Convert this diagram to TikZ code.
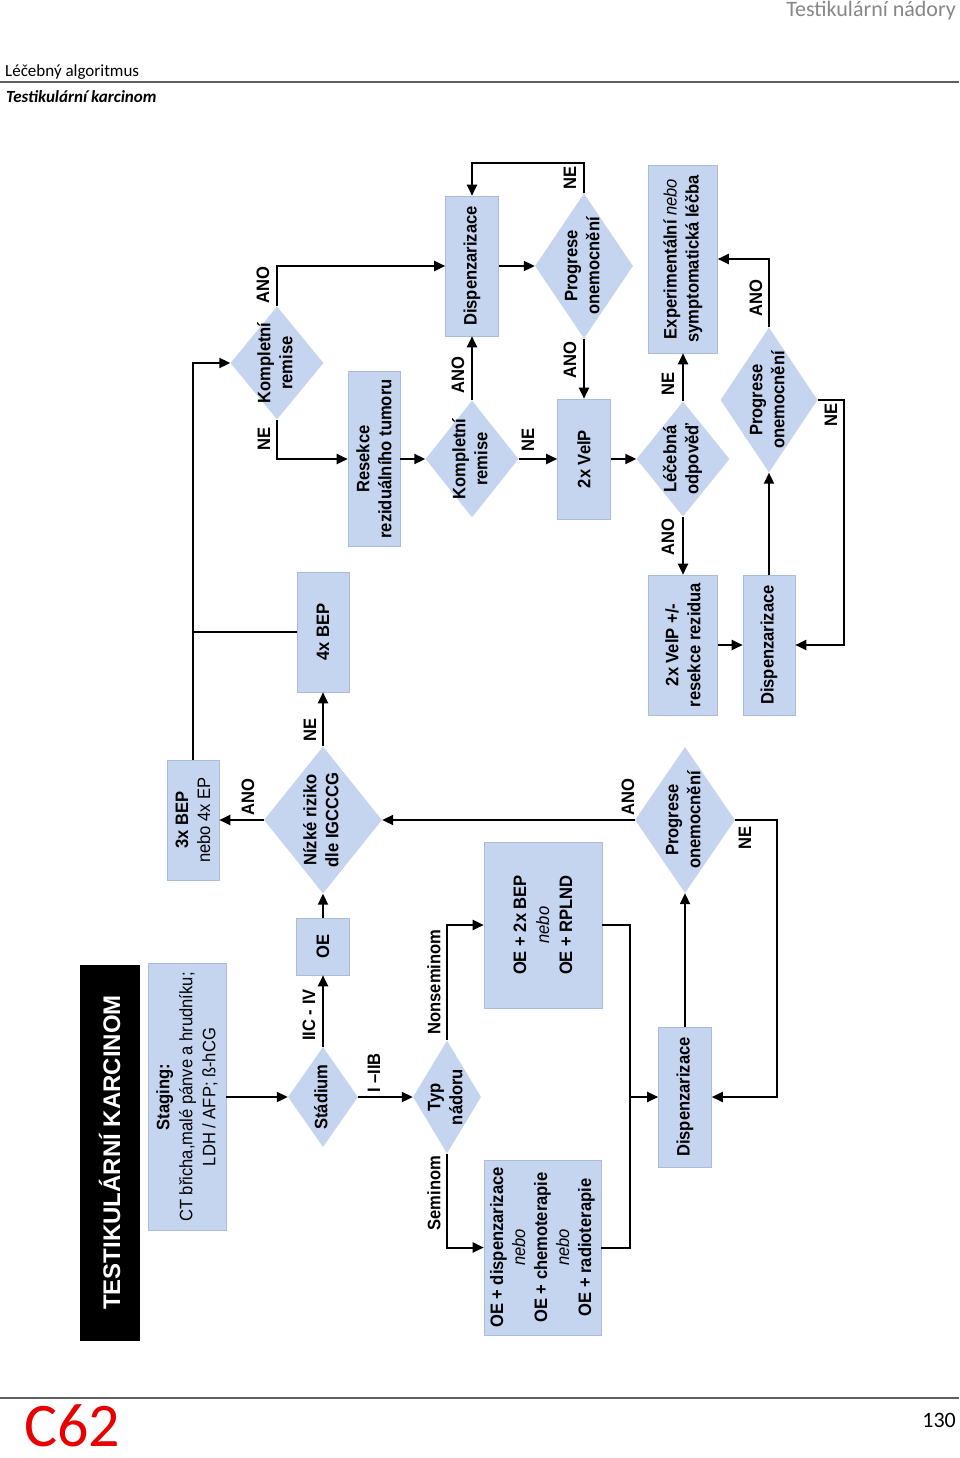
\documentclass[tikz,border=0pt]{standalone}
\usepackage{fontspec}
\setmainfont{Liberation Sans}
\newfontfamily\hfont{Carlito}
\newfontfamily\dfam[FakeStretch=0.92]{Liberation Sans}
\usetikzlibrary{shapes.geometric, arrows.meta}
\definecolor{boxblue}{RGB}{197,213,240}
\definecolor{boxedge}{RGB}{172,188,216}
\definecolor{hdrgray}{RGB}{135,135,135}
\definecolor{codered}{RGB}{232,0,0}
\newcommand{\dfont}{\dfam\bfseries\fontsize{18}{22}\selectfont}
\newcommand{\dtx}[1]{\makebox[0pt]{\begin{tabular}{@{}c@{}}#1\end{tabular}}}

\begin{document}
\begin{tikzpicture}[x=1pt, y=-1pt,
    box/.style={rectangle, fill=boxblue, draw=boxedge, line width=0.6pt, rotate=90,
                inner sep=1pt, align=center, font=\dfont},
    dia/.style={diamond, fill=boxblue, rotate=90, inner sep=0pt, font=\dfont},
    arr/.style={-{Triangle[length=11pt,width=10pt]}, line width=2pt},
    lin/.style={line width=2pt},
    note/.style={rotate=90, inner sep=0pt, font=\dfont}
]
\fill[white] (0,0) rectangle (960,1458);
\useasboundingbox (0,0) rectangle (960,1458);

% page head and foot
\node[anchor=base east, inner sep=0pt, text=hdrgray, font=\hfont\fontsize{22}{24}\selectfont] (head) at (956,17) {Testikulární nádory};
\node[anchor=base west, inner sep=0pt, font=\hfont\fontsize{17}{20}\selectfont] (sect) at (5,77) {Léčebný algoritmus};
\draw[hdrgray!70!black, line width=1.3pt] (0,82) -- (959,82);
\node[anchor=base west, inner sep=0pt, font=\hfont\bfseries\itshape\fontsize{17}{20}\selectfont] (sub) at (6,103) {Testikulární karcinom};
\draw[hdrgray!70!black, line width=1.3pt] (0,1398) -- (959,1398);
\node[anchor=base west, inner sep=0pt, text=codered, font=\hfont\fontsize{62}{66}\selectfont] (code) at (24,1446) {C62};
\node[anchor=base east, inner sep=0pt, font=\hfont\fontsize{22}{24}\selectfont] (page) at (956,1427) {130};

% boxes
\node[box, fill=black, draw=black, text=white, minimum width=375pt, minimum height=59pt,
      font=\bfseries\fontsize{24}{28}\selectfont] (title) at (109.5,1152.5) {TESTIKULÁRNÍ KARCINOM};
\node[box, minimum width=267pt, minimum height=78pt] (staging) at (187,1097)
     {Staging:\\[1pt]\mdseries CT břicha,malé pánve a hrudníku;\\[1pt]\mdseries LDH / AFP; ß-hCG};
\node[box, minimum width=57pt, minimum height=53pt] (oe) at (323,946.5) {OE};
\node[box, minimum width=120pt, minimum height=52pt] (bep3) at (193,820) {3x BEP\\\mdseries nebo 4x EP};
\node[box, minimum width=120pt, minimum height=52pt] (bep4) at (323,632) {4x BEP};
\node[box, minimum width=166pt, minimum height=118pt] (nonsem) at (543,925)
     {OE + 2x BEP\\[1pt]{\mdseries\itshape nebo}\\[1pt]OE + RPLND};
\node[box, minimum width=175pt, minimum height=117pt] (sem) at (542.5,1247.5)
     {OE + dispenzarizace\\{\mdseries\itshape nebo}\\OE + chemoterapie\\{\mdseries\itshape nebo}\\OE + radioterapie};
\node[box, minimum width=140pt, minimum height=53pt] (disp1) at (685,1097) {Dispenzarizace};
\node[box, minimum width=175pt, minimum height=52pt] (resekce) at (374,459) {Resekce\\reziduálního tumoru};
\node[box, minimum width=140pt, minimum height=53pt] (disp2) at (472,266) {Dispenzarizace};
\node[box, minimum width=120pt, minimum height=53pt] (velp) at (584,459) {2x VelP};
\node[box, minimum width=188pt, minimum height=69pt] (exper) at (683,259)
     {Experimentální {\mdseries\itshape nebo}\\symptomatická léčba};
\node[box, minimum width=140pt, minimum height=69pt] (velp2) at (683,645) {2x VelP +/-\\resekce rezidua};
\node[box, minimum width=140pt, minimum height=52pt] (disp3) at (769,645) {Dispenzarizace};

% decisions
\node[dia, minimum width=100pt, minimum height=70pt] (stadium) at (323,1097) {\dtx{Stádium}};
\node[dia, minimum width=113pt, minimum height=68pt] (typ) at (447,1097) {\dtx{Typ\\nádoru}};
\node[dia, minimum width=147pt, minimum height=118pt] (nizke) at (323,820) {\dtx{Nízké riziko\\dle IGCCCG}};
\node[dia, minimum width=146pt, minimum height=100pt] (prog1) at (685,820) {\dtx{Progrese\\onemocnění}};
\node[dia, minimum width=113pt, minimum height=93pt] (komp1) at (277,363) {\dtx{Kompletní\\remise}};
\node[dia, minimum width=117pt, minimum height=93pt] (komp2) at (472,459) {\dtx{Kompletní\\remise}};
\node[dia, minimum width=145pt, minimum height=98pt] (prog2) at (584,266) {\dtx{Progrese\\onemocnění}};
\node[dia, minimum width=115pt, minimum height=93pt] (lecebna) at (683,459) {\dtx{Léčebná\\odpověď}};
\node[dia, minimum width=145pt, minimum height=97pt] (prog3) at (769,400) {\dtx{Progrese\\onemocnění}};

% branch labels
\node[note] (iic) at (309,1015) {IIC - IV};
\node[note] (iib) at (374,1073) {I –IIB};
\node[note] (nsem) at (434,982) {Nonseminom};
\node[note] (semi) at (434,1193) {Seminom};
\node[note] (ne1) at (745,838) {NE};
\node[note] (ano1) at (628,797) {ANO};
\node[note] (ano2) at (248,797) {ANO};
\node[note] (ne2) at (310,730) {NE};
\node[note] (ano3) at (263,285) {ANO};
\node[note] (ne3) at (264,439) {NE};
\node[note] (ano4) at (458,375) {ANO};
\node[note] (ne4) at (528,440) {NE};
\node[note] (ne5) at (570,178) {NE};
\node[note] (ano5) at (570,360) {ANO};
\node[note] (ne6) at (668,384) {NE};
\node[note] (ano6) at (668,537) {ANO};
\node[note] (ano7) at (756,298) {ANO};
\node[note] (ne7) at (831,415) {NE};

\coordinate (j1) at (630,1097);

% connectors
\draw[arr] (staging.south) -- (stadium.north);
\draw[arr] (stadium.east) -- (oe.west);
\draw[arr] (oe.east) -- (nizke.west);
\draw[arr] (stadium.south) -- (typ.north);
\draw[arr] (typ.east) |- (nonsem.north);
\draw[arr] (typ.west) |- (sem.north);
\draw[lin] (nonsem.south) -| (j1) |- (sem.south);
\draw[arr] (j1) -- (disp1.north);
\draw[arr] (disp1.east) -- (prog1.west);
\draw[arr] (prog1.south) -- ++(42,0) |- (disp1.south);
\draw[arr] (prog1.north) -- (nizke.south);
\draw[arr] (nizke.north) -- (bep3.south);
\draw[arr] (nizke.east) -- (bep4.west);
\draw[arr] (bep3.east) |- (komp1.north);
\draw[lin] (bep4.north) -- (bep4.north -| bep3.east);
\draw[arr] (komp1.east) |- (disp2.north);
\draw[arr] (komp1.west) |- (resekce.north);
\draw[arr] (resekce.south) -- (komp2.north);
\draw[arr] (komp2.east) -- (disp2.west);
\draw[arr] (komp2.south) -- (velp.north);
\draw[arr] (disp2.south) -- (prog2.north);
\draw[arr] (prog2.east) -- ++(0,-30) -| (disp2.east);
\draw[arr] (prog2.west) -- (velp.east);
\draw[arr] (velp.south) -- (lecebna.north);
\draw[arr] (lecebna.east) -- (exper.west);
\draw[arr] (lecebna.west) -- (velp2.east);
\draw[arr] (velp2.south) -- (disp3.north);
\draw[arr] (disp3.east) -- (prog3.west);
\draw[arr] (prog3.east) |- (exper.south);
\draw[arr] (prog3.south) -- ++(26,0) |- (disp3.south);
\end{tikzpicture}
\end{document}
